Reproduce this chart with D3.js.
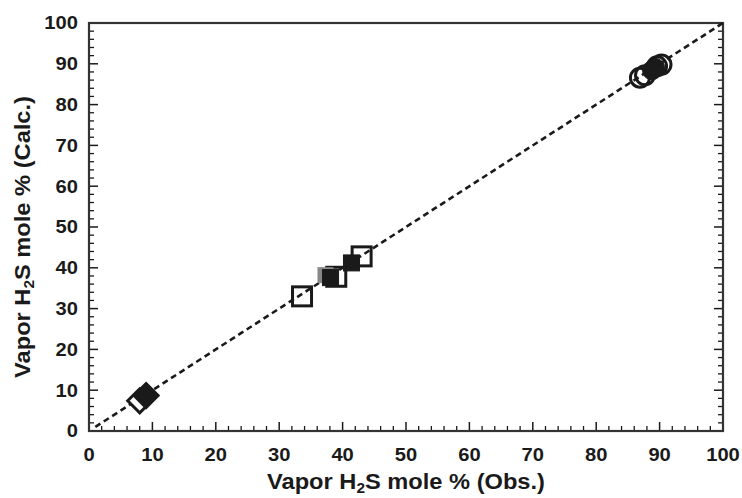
<!DOCTYPE html>
<html>
<head>
<meta charset="utf-8">
<script src="https://cdn.jsdelivr.net/npm/d3@7"></script>
<style>
  html, body { margin: 0; padding: 0; background: #fff; }
  svg { display: block; font-family: "Liberation Sans", Arial, sans-serif; }
</style>
</head>
<body>
<svg id="chart" width="742" height="498"></svg>
<script>
// ---- data ----
const xTicks = [0, 10, 20, 30, 40, 50, 60, 70, 80, 90, 100];
const yTicks = [0, 10, 20, 30, 40, 50, 60, 70, 80, 90, 100];
const diamondsOpen = [[8.0, 7.4]];
const diamondsFilled = [[9.0, 8.7]];
const squaresOpen = [[33.6, 33.0], [39.0, 37.8], [43.0, 42.8]];
const squaresGray = [[37.3, 38.2]];
const squaresFilled = [[38.1, 37.6], [41.4, 41.2]];
const circlesOpen = [[86.9, 86.6], [87.7, 87.2], [89.6, 89.4], [90.3, 89.8]];
const circlesFilled = [[88.8, 88.4], [89.3, 89.0]];

(function () {
const svg = d3.select("#chart");
const mL = 89, mR = 723, mT = 23, mB = 431;
const x = d3.scaleLinear().domain([0, 100]).range([mL, mR]);
const y = d3.scaleLinear().domain([0, 100]).range([mB, mT]);
const ink = "#1a1a1a";
const sx = 1.12;

// minor ticks
const minor = d3.range(0, 101, 2).filter(v => v % 10 !== 0);

// bottom axis
const gx = svg.append("g").attr("transform", `translate(0,${mB})`);
gx.selectAll("line.maj").data(xTicks).join("line")
  .attr("x1", d => x(d)).attr("x2", d => x(d)).attr("y1", 0).attr("y2", -9)
  .attr("stroke", ink).attr("stroke-width", 1.5);
gx.selectAll("line.min").data(minor).join("line")
  .attr("x1", d => x(d)).attr("x2", d => x(d)).attr("y1", 0).attr("y2", -5)
  .attr("stroke", ink).attr("stroke-width", 1.3);
gx.selectAll("text").data(xTicks).join("text")
  .attr("transform", d => `translate(${x(d)},30) scale(${sx},1)`)
  .attr("text-anchor", "middle")
  .attr("font-size", 18).attr("font-weight", "bold").attr("fill", ink)
  .text(d => d);

// left axis
const gy = svg.append("g").attr("transform", `translate(${mL},0)`);
gy.selectAll("line.maj").data(yTicks).join("line")
  .attr("y1", d => y(d)).attr("y2", d => y(d)).attr("x1", 0).attr("x2", 9)
  .attr("stroke", ink).attr("stroke-width", 1.5);
gy.selectAll("line.min").data(minor).join("line")
  .attr("y1", d => y(d)).attr("y2", d => y(d)).attr("x1", 0).attr("x2", 5)
  .attr("stroke", ink).attr("stroke-width", 1.3);
gy.selectAll("text").data(yTicks).join("text")
  .attr("transform", d => `translate(-11,${y(d)}) scale(${sx},1)`)
  .attr("dy", "0.36em").attr("text-anchor", "end")
  .attr("font-size", 18).attr("font-weight", "bold").attr("fill", ink)
  .text(d => d);

// right axis ticks
const gr = svg.append("g").attr("transform", `translate(${mR},0)`);
gr.selectAll("line.maj").data(yTicks).join("line")
  .attr("y1", d => y(d)).attr("y2", d => y(d)).attr("x1", 0).attr("x2", -9)
  .attr("stroke", ink).attr("stroke-width", 1.5);
gr.selectAll("line.min").data(minor).join("line")
  .attr("y1", d => y(d)).attr("y2", d => y(d)).attr("x1", 0).attr("x2", -5)
  .attr("stroke", ink).attr("stroke-width", 1.3);

// frame
svg.append("rect").attr("x", mL).attr("y", mT)
  .attr("width", mR - mL).attr("height", mB - mT)
  .attr("fill", "none").attr("stroke", "#333").attr("stroke-width", 2.2);

// parity line
svg.append("line")
  .attr("x1", x(1)).attr("y1", y(1)).attr("x2", x(100)).attr("y2", y(100))
  .attr("stroke", ink).attr("stroke-width", 2.6).attr("stroke-dasharray", "6,4");

// markers
const g = svg.append("g");
const diamondPath = (cx, cy) => `M${cx},${cy - 12}L${cx + 12},${cy}L${cx},${cy + 12}L${cx - 12},${cy}Z`;
g.selectAll("path.dopen").data(diamondsOpen).join("path")
  .attr("d", d => diamondPath(x(d[0]), y(d[1])))
  .attr("fill", "#fff").attr("stroke", ink).attr("stroke-width", 3);
g.selectAll("path.dfill").data(diamondsFilled).join("path")
  .attr("d", d => diamondPath(x(d[0]), y(d[1])))
  .attr("fill", ink).attr("stroke", ink).attr("stroke-width", 3);

const s = 19;
g.selectAll("rect.sopen").data(squaresOpen).join("rect")
  .attr("x", d => x(d[0]) - s / 2).attr("y", d => y(d[1]) - s / 2)
  .attr("width", s).attr("height", s)
  .attr("fill", "none").attr("stroke", ink).attr("stroke-width", 3);
g.selectAll("rect.sgray").data(squaresGray).join("rect")
  .attr("x", d => x(d[0]) - 8).attr("y", d => y(d[1]) - 8)
  .attr("width", 16).attr("height", 16)
  .attr("fill", "#888").attr("stroke", "none");
g.selectAll("rect.sfill").data(squaresFilled).join("rect")
  .attr("x", d => x(d[0]) - 8).attr("y", d => y(d[1]) - 8)
  .attr("width", 16).attr("height", 16)
  .attr("fill", ink).attr("stroke", ink).attr("stroke-width", 1);

g.selectAll("circle.copen").data(circlesOpen).join("circle")
  .attr("cx", d => x(d[0])).attr("cy", d => y(d[1])).attr("r", 9.5)
  .attr("fill", "none").attr("stroke", ink).attr("stroke-width", 3);
g.selectAll("circle.cfill").data(circlesFilled).join("circle")
  .attr("cx", d => x(d[0])).attr("cy", d => y(d[1])).attr("r", 9.5)
  .attr("fill", ink).attr("stroke", ink).attr("stroke-width", 1);

// axis titles
const tfs = 21.5;
const xt = svg.append("text").attr("transform", `translate(406,489) scale(1.1,1)`)
  .attr("text-anchor", "middle")
  .attr("font-size", tfs).attr("font-weight", "bold").attr("fill", ink);
xt.append("tspan").text("Vapor H");
xt.append("tspan").attr("font-size", 14).attr("dy", 4).text("2");
xt.append("tspan").attr("dy", -4).text("S mole % (Obs.)");

const yt = svg.append("text").attr("transform", `translate(30,237) rotate(-90) scale(1.1,1)`)
  .attr("text-anchor", "middle")
  .attr("font-size", tfs).attr("font-weight", "bold").attr("fill", ink);
yt.append("tspan").text("Vapor H");
yt.append("tspan").attr("font-size", 14).attr("dy", 4).text("2");
yt.append("tspan").attr("dy", -4).text("S mole % (Calc.)");
})();
</script>
</body>
</html>
